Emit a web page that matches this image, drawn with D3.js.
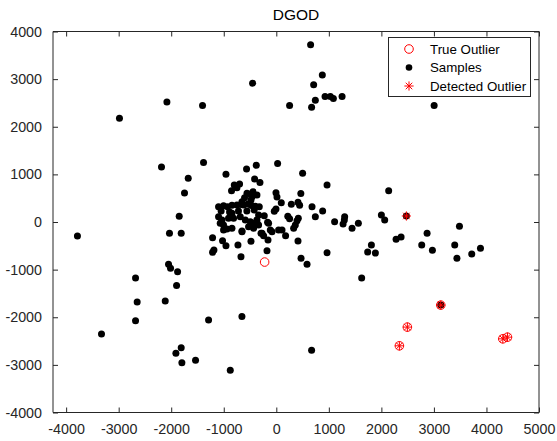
<!DOCTYPE html>
<html>
<head>
<meta charset="utf-8">
<script src="https://cdn.jsdelivr.net/npm/d3@7/dist/d3.min.js"></script>
<style>
  html, body { margin: 0; padding: 0; background: #fff; }
  svg { display: block; font-family: "Liberation Sans", Arial, Helvetica, sans-serif; }
</style>
</head>
<body>
<svg id="chart" width="557" height="441"></svg>
<script>
// DGOD scatter: samples, true outliers and detected outliers
const chartTitle = "DGOD";
const xTicks = [-4000, -3000, -2000, -1000, 0, 1000, 2000, 3000, 4000, 5000];
const yTicks = [-4000, -3000, -2000, -1000, 0, 1000, 2000, 3000, 4000];
const legendLabels = ["True Outlier", "Samples", "Detected Outlier"];

const samples = [
  [653,3721],[876,3084],[711,2880],[743,2558],[928,2634],[1029,2634],[1086,2592],[1252,2634],[253,2445],[672,2411],[3004,2445],
  [-2985,2180],[-2082,2522],[-1404,2445],[-451,2916],[-2185,1156],[-1385,1247],[-1676,919],[-1747,610],[-1848,120],
  [-958,1003],[-566,1114],[-381,1192],[25,1226],[-413,904],[-311,830],[501,1024],[966,778],[2139,658],
  [-800,778],[-699,799],[-749,721],[-852,658],
  [-444,637],[-495,582],[-558,603],[-463,532],[-368,568],[-604,511],[-653,427],[-623,357],[-539,378],
  [-6,616],[13,526],[467,599],[95,406],[286,372],[413,414],[444,351],[680,322],[743,111],[882,231],
  [-1099,322],[-1004,343],[-928,322],[-844,351],[-749,357],[-672,370],[-476,345],[-400,330],
  [-482,462],[-324,322],[-38,225],[-6,273],[-337,147],[-229,132],[219,120],[253,69],[394,27],[362,-63],[330,-132],[419,78],
  [-368,-27],[-166,-6],[-147,-27],[-272,-238],[-242,-288],[-114,-168],[-82,-204],[44,-168],[109,-168],[177,-288],
  [413,-399],[-158,-378],[-177,-603],[471,-763],[585,-889],[966,-645],
  [1110,6],[1301,111],[1295,42],[1271,-42],[1442,-132],[1562,-27],[2000,147],[2063,42],[1810,-483],[1739,-631],
  [1886,-652],[1625,-1177],[2280,-364],[2375,-315],[2768,-483],[2870,-238],[2971,-595],[3396,-483],[3486,-90],
  [3438,-763],[3720,-673],[3886,-553],[672,-2691],[2476,126],[3130,-1745],
  [-3785,-294],[-2033,-238],[-1810,-238],[-1213,-330],[-1213,-637],[-1187,-589],[-1023,-393],[-958,-498],
  [-730,-483],[-672,-729],[-482,-406],[-291,-238],[-653,-204],
  [-1099,111],[-1034,42],[-1067,-27],[-1004,-63],[-939,-147],[-1004,-168],[-909,78],[-813,78],[-686,111],
  [-590,42],[-495,6],[-432,-27],[-368,42],[-528,-99],[-432,-132],[-337,-63],[-844,-132],[-653,-189],[-844,183],
  [-1050,231],[-890,210],[-720,231],[-560,231],[-420,252],
  [-2679,-1177],[-2051,-889],[-2013,-973],[-1879,-1044],[-1898,-1331],[-2648,-1682],[-2114,-1661],
  [-2679,-2074],[-3327,-2354],[-1289,-2060],[-654,-1982],[-1810,-2642],[-1911,-2754],[-1797,-2958],
  [-1537,-2901],[-876,-3111]
];

const trueOutliers = [
  [-222,-841],[3130,-1745],[2495,-2207],[2343,-2600],[4311,-2453],[4400,-2418]
];

const detectedOutliers = [
  [2476,126],[3130,-1745],[2495,-2207],[2343,-2600],[4311,-2453],[4400,-2418]
];

const svg = d3.select("#chart");
const axisColor = "#262626";
const red = "#ff0000";

const x = d3.scaleLinear().domain([-4250, 5000]).range([53, 539]);
const y = d3.scaleLinear().domain([-4000, 4000]).range([412.5, 31.5]);

const tickLen = 5;
const fontSize = 14.3;

// axes frame
const axes = svg.append("g");
axes.append("rect")
  .attr("x", x.range()[0]).attr("y", y.range()[1])
  .attr("width", x.range()[1] - x.range()[0])
  .attr("height", y.range()[0] - y.range()[1])
  .attr("fill", "#fff");

// bottom axis with inward ticks
const xAxis = d3.axisBottom(x).tickValues(xTicks).tickFormat(d3.format("d"))
  .tickSizeInner(-tickLen).tickSizeOuter(0).tickPadding(11);
const gx = axes.append("g").attr("transform", `translate(0,${y.range()[0]})`).call(xAxis);
gx.select(".domain").remove();
gx.selectAll("line").attr("stroke", axisColor);
gx.selectAll("text").attr("fill", axisColor).attr("font-size", fontSize)
  .attr("font-family", "Liberation Sans, Arial, sans-serif").text(d => d < 0 ? "-" + Math.abs(d) : d);

// top axis ticks (no labels)
const gxt = axes.append("g").attr("transform", `translate(0,${y.range()[1]})`)
  .call(d3.axisTop(x).tickValues(xTicks).tickSizeInner(-tickLen).tickSizeOuter(0).tickFormat(""));
gxt.select(".domain").remove();
gxt.selectAll("line").attr("stroke", axisColor);

// left axis with inward ticks
const yAxis = d3.axisLeft(y).tickValues(yTicks)
  .tickSizeInner(-tickLen).tickSizeOuter(0).tickPadding(11);
const gy = axes.append("g").attr("transform", `translate(${x.range()[0]},0)`).call(yAxis);
gy.select(".domain").remove();
gy.selectAll("line").attr("stroke", axisColor);
gy.selectAll("text").attr("fill", axisColor).attr("font-size", fontSize)
  .attr("font-family", "Liberation Sans, Arial, sans-serif").text(d => d < 0 ? "-" + Math.abs(d) : d);

// right axis ticks
const gyr = axes.append("g").attr("transform", `translate(${x.range()[1]},0)`)
  .call(d3.axisRight(y).tickValues(yTicks).tickSizeInner(-tickLen).tickSizeOuter(0).tickFormat(""));
gyr.select(".domain").remove();
gyr.selectAll("line").attr("stroke", axisColor);

// box outline
const [x0, x1] = x.range();
const [yb, yt] = y.range();
axes.append("path")
  .attr("d", `M${x0},${yt}H${x1}V${yb}H${x0}Z`)
  .attr("fill", "none").attr("stroke", axisColor).attr("stroke-width", 1);

// title
svg.append("text")
  .attr("x", (x0 + x1) / 2).attr("y", 19.5)
  .attr("text-anchor", "middle")
  .attr("font-size", 15.5).attr("fill", "#000")
  .text(chartTitle);

// asterisk marker path
function starPath(r) {
  const d = r * Math.SQRT1_2;
  return `M${-r},0H${r}M0,${-r}V${r}M${-d},${-d}L${d},${d}M${-d},${d}L${d},${-d}`;
}

const plot = svg.append("g");

plot.selectAll("circle.sample").data(samples).join("circle")
  .attr("class", "sample")
  .attr("cx", d => x(d[0])).attr("cy", d => y(d[1])).attr("r", 3.5)
  .attr("fill", "#000");

plot.selectAll("circle.true").data(trueOutliers).join("circle")
  .attr("class", "true")
  .attr("cx", d => x(d[0])).attr("cy", d => y(d[1])).attr("r", 4.3)
  .attr("fill", "none").attr("stroke", red).attr("stroke-width", 1);

plot.selectAll("path.detected").data(detectedOutliers).join("path")
  .attr("class", "detected")
  .attr("transform", d => `translate(${x(d[0])},${y(d[1])})`)
  .attr("d", starPath(4.6))
  .attr("fill", "none").attr("stroke", red).attr("stroke-width", 1);

// legend
const lg = svg.append("g");
lg.append("rect")
  .attr("x", 388.5).attr("y", 37.5).attr("width", 142).attr("height", 59)
  .attr("fill", "#fff").attr("stroke", axisColor).attr("stroke-width", 1);
const rowY = [49, 67.5, 86];
const mx = 409;
lg.append("circle").attr("cx", mx).attr("cy", rowY[0]).attr("r", 4.3)
  .attr("fill", "none").attr("stroke", red);
lg.append("circle").attr("cx", mx).attr("cy", rowY[1]).attr("r", 3.3).attr("fill", "#000");
lg.append("path").attr("transform", `translate(${mx},${rowY[2]})`).attr("d", starPath(4.6))
  .attr("fill", "none").attr("stroke", red);
lg.selectAll("text").data(legendLabels).join("text")
  .attr("x", 430).attr("y", (d, i) => rowY[i] + 4.8)
  .attr("font-size", 13.3).attr("fill", "#000")
  .text(d => d);
</script>
</body>
</html>
